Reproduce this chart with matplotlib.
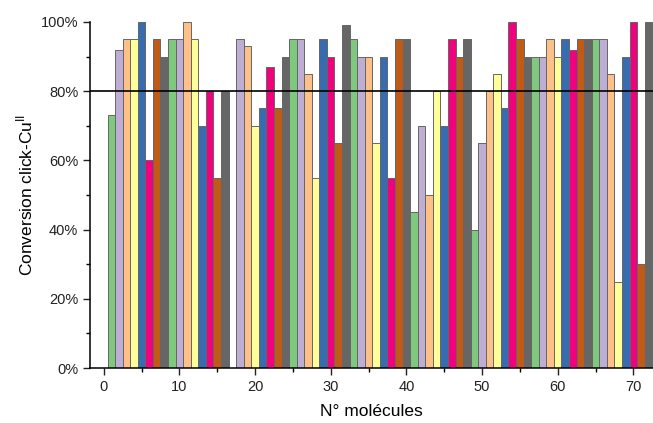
import matplotlib
matplotlib.use('Agg')
import matplotlib.pyplot as plt
import numpy as np
from matplotlib.ticker import PercentFormatter, MultipleLocator

plt.rcParams['font.family'] = ['Liberation Sans', 'DejaVu Sans']

# molecule numbers 1..72 and their click-Cu(II) conversion (fraction); 17 has no bar
molecules = list(range(1, 73))
conversion = [
    0.73, 0.92, 0.95, 0.95, 1.00, 0.60, 0.95, 0.90,
    0.95, 0.95, 1.00, 0.95, 0.70, 0.80, 0.55, 0.80,
    0.00, 0.95, 0.93, 0.70, 0.75, 0.87, 0.75, 0.90,
    0.95, 0.95, 0.85, 0.55, 0.95, 0.90, 0.65, 0.99,
    0.95, 0.90, 0.90, 0.65, 0.90, 0.55, 0.95, 0.95,
    0.45, 0.70, 0.50, 0.80, 0.70, 0.95, 0.90, 0.95,
    0.40, 0.65, 0.80, 0.85, 0.75, 1.00, 0.95, 0.90,
    0.90, 0.90, 0.95, 0.90, 0.95, 0.92, 0.95, 0.95,
    0.95, 0.95, 0.85, 0.25, 0.90, 1.00, 0.30, 1.00,
]
threshold = 0.80

# Accent-like palette, cycling every 8 molecules
palette = ['#7fc97f', '#beaed4', '#fdc086', '#ffff99',
           '#386cb0', '#f0027f', '#bf5b17', '#666666']
colors = [palette[i % 8] for i in range(len(molecules))]

fig = plt.figure(figsize=(6.53, 4.23), dpi=100)
ax = fig.add_axes([0.138, 0.130, 0.862, 0.818])

ax.bar(molecules, conversion, width=1.0, color=colors,
       edgecolor='#666666', linewidth=0.7)
ax.axhline(threshold, color='black', linewidth=1.2)

ax.set_xlim(-1.8, 72.6)
ax.set_ylim(0, 1.0)
ax.yaxis.set_major_formatter(PercentFormatter(1.0, decimals=0))
ax.yaxis.set_major_locator(MultipleLocator(0.2))
ax.yaxis.set_minor_locator(MultipleLocator(0.1))
ax.xaxis.set_major_locator(MultipleLocator(10))
ax.xaxis.set_minor_locator(MultipleLocator(5))
ax.tick_params(which='major', length=5, width=1, labelsize=10.5, colors='#222222')
ax.tick_params(which='minor', length=3, width=1)

for side in ['top', 'right']:
    ax.spines[side].set_visible(False)
for side in ['left', 'bottom']:
    ax.spines[side].set_linewidth(1.1)

ax.set_xlabel('N° molécules', fontsize=12.5, labelpad=7)
ax.set_ylabel('Conversion click-Cu$^{\\mathregular{II}}$', fontsize=12.5, labelpad=4)

plt.savefig('out.png', dpi=100)
